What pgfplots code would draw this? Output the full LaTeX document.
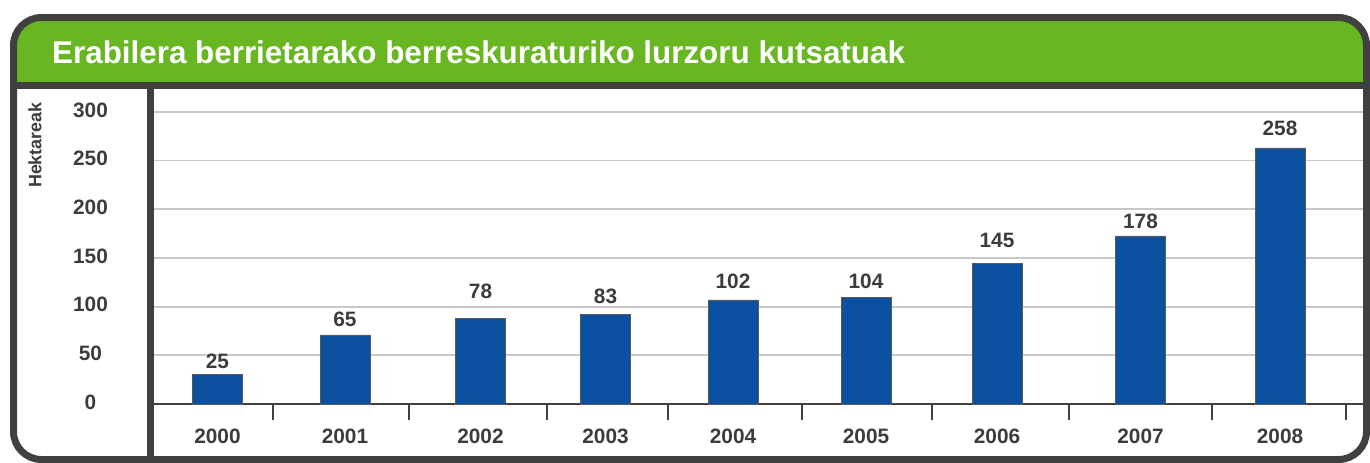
\documentclass[border=0pt]{standalone}
\usepackage{fontspec}
\setmainfont{Liberation Sans}
\usepackage{pgfplots}
\pgfplotsset{compat=1.18}
\usepackage{pgfplotstable}
\definecolor{frame}{HTML}{404040}
\definecolor{head}{HTML}{69B623}
\definecolor{barblue}{HTML}{0B51A0}
\definecolor{txt}{HTML}{3C3C3C}
\definecolor{gridc}{HTML}{C8C8C8}

% x = bar centre (px), h = drawn height, ly = label height, lab = printed value
\pgfplotstableread{
x      h     ly     lab
217.5  30.5  44.2   25
345    70.9  87.3   65
480.5  88.2  115.4  78
605.5  92.3  110.2  83
733    106.9 125.7  102
866    109.2 125.7  104
997    144.6 168.5  145
1140.5 172.6 187.3  178
1280   263.0 283.6  258
}\hect

\begin{document}
\begin{tikzpicture}
\path[use as bounding box] (0,0) rectangle (1370bp,-463bp);
\begin{scope}
\clip[rounded corners=28bp] (13.5bp,-17.5bp) rectangle (1366.5bp,-459.5bp);
\fill[head] (0,0) rectangle (1370bp,-85.5bp);
\end{scope}

\begin{axis}[
  at={(154bp,-404bp)}, anchor=south west,
  scale only axis, width=1209bp, height=315bp,
  xmin=154, xmax=1363, ymin=0, ymax=323.6,
  axis x line*=bottom, axis y line*=left,
  y axis line style={draw=none},
  x axis line style={frame, line width=2.5bp},
  major tick length=0pt,
  xtick=data,
  xticklabels={2000,2001,2002,2003,2004,2005,2006,2007,2008},
  extra x ticks={273,409,547,668,802,932,1069,1212,1346},
  extra x tick labels={},
  extra x tick style={major tick length=16bp, tick align=outside,
    tick style={frame, line width=2.3bp}},
  ytick={0,50,...,300},
  ymajorgrids, grid style={gridc, line width=1.7bp},
  /pgf/number format/assume math mode=true,
  tick label style={font=\bfseries\fontsize{20.9}{24}\selectfont, text=txt},
  yticklabel style={anchor=center, xshift=-63.5bp, yshift=2bp},
  xticklabel style={anchor=center, yshift=-32.3bp},
  ylabel={Hektareak},
  ylabel style={at={(axis description cs:-0.0984,0.822)}, anchor=center,
    font=\bfseries\fontsize{18}{21}\selectfont, text=txt},
  clip=false,
]
\addplot[ybar, bar width=50, fill=barblue, draw=gray!70!black, line width=0.8bp]
  table[x=x, y=h] {\hect};
\addplot[draw=none, nodes near coords, point meta=explicit symbolic,
  every node near coord/.append style={anchor=center,
    font=\bfseries\fontsize{20.9}{24}\selectfont, text=txt}]
  table[x=x, y=ly, meta=lab] {\hect};
\end{axis}

\draw[frame, line width=7bp] (13.5bp,-85.5bp) -- (1366.5bp,-85.5bp);
\draw[frame, line width=7bp] (150.5bp,-85.5bp) -- (150.5bp,-459.5bp);
\draw[frame, line width=7bp, rounded corners=28bp] (13.5bp,-17.5bp) rectangle (1366.5bp,-459.5bp);
\node[anchor=base west, text=white, inner sep=0pt,
  font=\bfseries\fontsize{31.5}{36}\selectfont] at (52bp,-63.5bp)
  {Erabilera berrietarako berreskuraturiko lurzoru kutsatuak};
\end{tikzpicture}
\end{document}
